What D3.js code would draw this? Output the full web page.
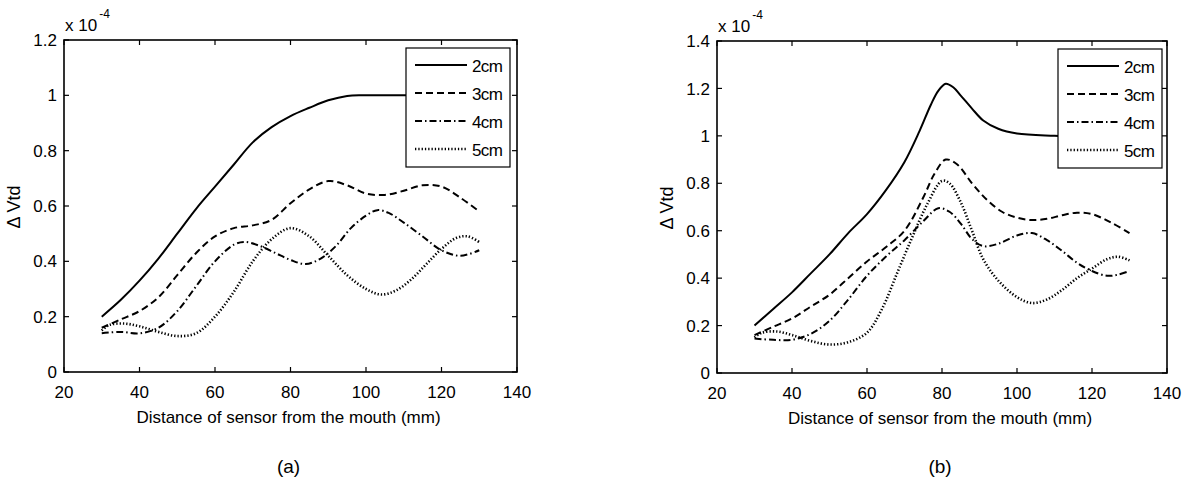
<!DOCTYPE html>
<html>
<head>
<meta charset="utf-8">
<script src="https://cdn.jsdelivr.net/npm/d3@7"></script>
<style>
  body { margin: 0; background: #fff; }
  svg text { font-family: "Liberation Sans", Arial, Helvetica, sans-serif; fill: #000; }
</style>
</head>
<body>
<svg id="chart" width="1187" height="481"></svg>
<script>
// ---- data (values in units of 1e-4) ----
const seriesNames = ["2cm", "3cm", "4cm", "5cm"];
const xTicks = [20, 40, 60, 80, 100, 120, 140];
const yTicksA = [0, 0.2, 0.4, 0.6, 0.8, 1, 1.2];
const yTicksB = [0, 0.2, 0.4, 0.6, 0.8, 1, 1.2, 1.4];

// panel (a)
const a2cm = [[30,0.20],[35,0.26],[40,0.33],[45,0.41],[50,0.50],[55,0.59],[60,0.67],[65,0.75],[70,0.83],[75,0.885],[80,0.925],[85,0.955],[90,0.982],[95,0.998],[100,1.0],[110,1.0],[120,1.0],[130,1.0]];
const a3cm = [[30,0.16],[35,0.19],[40,0.22],[45,0.27],[50,0.35],[55,0.43],[60,0.49],[65,0.52],[70,0.53],[75,0.55],[80,0.61],[85,0.66],[90,0.69],[95,0.675],[100,0.645],[105,0.64],[110,0.655],[115,0.675],[120,0.67],[125,0.63],[130,0.58]];
const a4cm = [[30,0.14],[35,0.145],[40,0.14],[45,0.16],[50,0.22],[55,0.31],[60,0.40],[65,0.46],[68,0.47],[72,0.455],[76,0.43],[80,0.405],[84,0.39],[88,0.41],[92,0.455],[96,0.52],[100,0.565],[103,0.585],[106,0.575],[110,0.54],[115,0.49],[120,0.44],[125,0.42],[130,0.44]];
const a5cm = [[30,0.15],[32,0.17],[36,0.175],[40,0.165],[45,0.145],[50,0.13],[55,0.14],[60,0.20],[65,0.29],[70,0.40],[75,0.48],[80,0.52],[85,0.49],[90,0.42],[95,0.35],[100,0.30],[104,0.28],[108,0.295],[112,0.335],[116,0.39],[120,0.445],[124,0.485],[127,0.49],[130,0.47]];

// panel (b)
const b2cm = [[30,0.20],[35,0.27],[40,0.34],[45,0.42],[50,0.50],[55,0.59],[60,0.67],[65,0.77],[70,0.89],[74,1.02],[77,1.13],[79,1.19],[81,1.22],[83,1.205],[85,1.17],[88,1.115],[91,1.065],[95,1.03],[100,1.01],[110,1.0],[120,0.995],[130,0.99]];
const b3cm = [[30,0.16],[35,0.195],[40,0.23],[45,0.28],[50,0.33],[55,0.40],[60,0.47],[65,0.53],[70,0.60],[75,0.74],[78,0.84],[81,0.90],[84,0.88],[88,0.80],[92,0.73],[96,0.68],[100,0.655],[104,0.645],[108,0.65],[112,0.665],[116,0.676],[120,0.67],[125,0.635],[130,0.59]];
const b4cm = [[30,0.145],[35,0.14],[40,0.14],[45,0.165],[50,0.22],[55,0.31],[60,0.41],[65,0.49],[70,0.56],[75,0.64],[79,0.695],[82,0.68],[85,0.63],[88,0.565],[91,0.535],[95,0.545],[100,0.58],[104,0.59],[108,0.56],[112,0.515],[116,0.465],[120,0.43],[124,0.41],[127,0.415],[130,0.43]];
const b5cm = [[30,0.15],[32,0.17],[36,0.175],[40,0.16],[45,0.135],[50,0.12],[55,0.13],[60,0.17],[64,0.27],[68,0.42],[72,0.57],[76,0.71],[80,0.81],[82,0.80],[85,0.72],[88,0.60],[91,0.48],[95,0.39],[100,0.32],[104,0.295],[108,0.31],[112,0.35],[116,0.40],[120,0.44],[124,0.48],[127,0.49],[130,0.475]];

// line styles, one per series
const dashes = [null, "7,4", "7,3,1.5,3", "1.3,2"];
const widths = [2, 2, 2, 2.6];

const svg = d3.select("#chart");

function drawPanel(opt) {
  const { left, top, right, bottom, yMax, yTicks, series, caption, legendX } = opt;
  const x = d3.scaleLinear().domain([20, 140]).range([left, right]);
  const y = d3.scaleLinear().domain([0, yMax]).range([bottom, top]);
  const g = svg.append("g");
  const tk = 5;

  // box
  g.append("rect")
    .attr("x", left).attr("y", top)
    .attr("width", right - left).attr("height", bottom - top)
    .attr("fill", "none").attr("stroke", "#000").attr("stroke-width", 1.6);

  // inward ticks on all four sides
  xTicks.forEach(t => {
    g.append("line").attr("x1", x(t)).attr("x2", x(t)).attr("y1", bottom).attr("y2", bottom - tk)
      .attr("stroke", "#000").attr("stroke-width", 1.2);
    g.append("line").attr("x1", x(t)).attr("x2", x(t)).attr("y1", top).attr("y2", top + tk)
      .attr("stroke", "#000").attr("stroke-width", 1.2);
    g.append("text").attr("x", x(t)).attr("y", bottom + 26)
      .attr("text-anchor", "middle").attr("font-size", 17).text(t);
  });
  yTicks.forEach(t => {
    g.append("line").attr("x1", left).attr("x2", left + tk).attr("y1", y(t)).attr("y2", y(t))
      .attr("stroke", "#000").attr("stroke-width", 1.2);
    g.append("line").attr("x1", right).attr("x2", right - tk).attr("y1", y(t)).attr("y2", y(t))
      .attr("stroke", "#000").attr("stroke-width", 1.2);
    g.append("text").attr("x", left - 7).attr("y", y(t)).attr("dy", "0.36em")
      .attr("text-anchor", "end").attr("font-size", 17).text(t);
  });

  // exponent label
  const ex = g.append("text").attr("x", left + 1).attr("y", top - 9).attr("font-size", 17);
  ex.append("tspan").text("x 10");
  ex.append("tspan").attr("dy", -13).attr("dx", 2).attr("font-size", 12).text("-4");

  // axis titles
  g.append("text").attr("x", (left + right) / 2 - 2).attr("y", bottom + 51)
    .attr("text-anchor", "middle").attr("font-size", 17)
    .text("Distance of sensor from the mouth (mm)");
  g.append("text")
    .attr("transform", `translate(${left - 44},${top + 167}) rotate(-90)`)
    .attr("text-anchor", "middle").attr("font-size", 18)
    .text("\u0394 Vtd");
  g.append("text").attr("x", (left + right) / 2 - 2).attr("y", 473)
    .attr("text-anchor", "middle").attr("font-size", 19).text(caption);

  // curves
  const line = d3.line().x(d => x(d[0])).y(d => y(d[1])).curve(d3.curveCatmullRom.alpha(0.5));
  series.forEach((s, i) => {
    g.append("path").datum(s).attr("d", line)
      .attr("fill", "none").attr("stroke", "#000")
      .attr("stroke-width", widths[i])
      .attr("stroke-dasharray", dashes[i]);
  });

  // legend
  const lg = g.append("g").attr("transform", `translate(${legendX},${top + 8})`);
  lg.append("rect").attr("width", 104).attr("height", 119)
    .attr("fill", "#fff").attr("stroke", "#000").attr("stroke-width", 1.2);
  seriesNames.forEach((n, i) => {
    const ly = 17 + i * 28;
    lg.append("line").attr("x1", 9).attr("x2", 61).attr("y1", ly).attr("y2", ly)
      .attr("stroke", "#000").attr("stroke-width", widths[i])
      .attr("stroke-dasharray", dashes[i]);
    lg.append("text").attr("x", 66).attr("y", ly).attr("dy", "0.4em")
      .attr("font-size", 17).attr("letter-spacing", -0.6).text(n);
  });
}

drawPanel({ left: 64, top: 40, right: 517, bottom: 372, yMax: 1.2, yTicks: yTicksA,
  series: [a2cm, a3cm, a4cm, a5cm], caption: "(a)", legendX: 406 });
drawPanel({ left: 717, top: 41, right: 1167, bottom: 373, yMax: 1.4, yTicks: yTicksB,
  series: [b2cm, b3cm, b4cm, b5cm], caption: "(b)", legendX: 1058 });
</script>
</body>
</html>
